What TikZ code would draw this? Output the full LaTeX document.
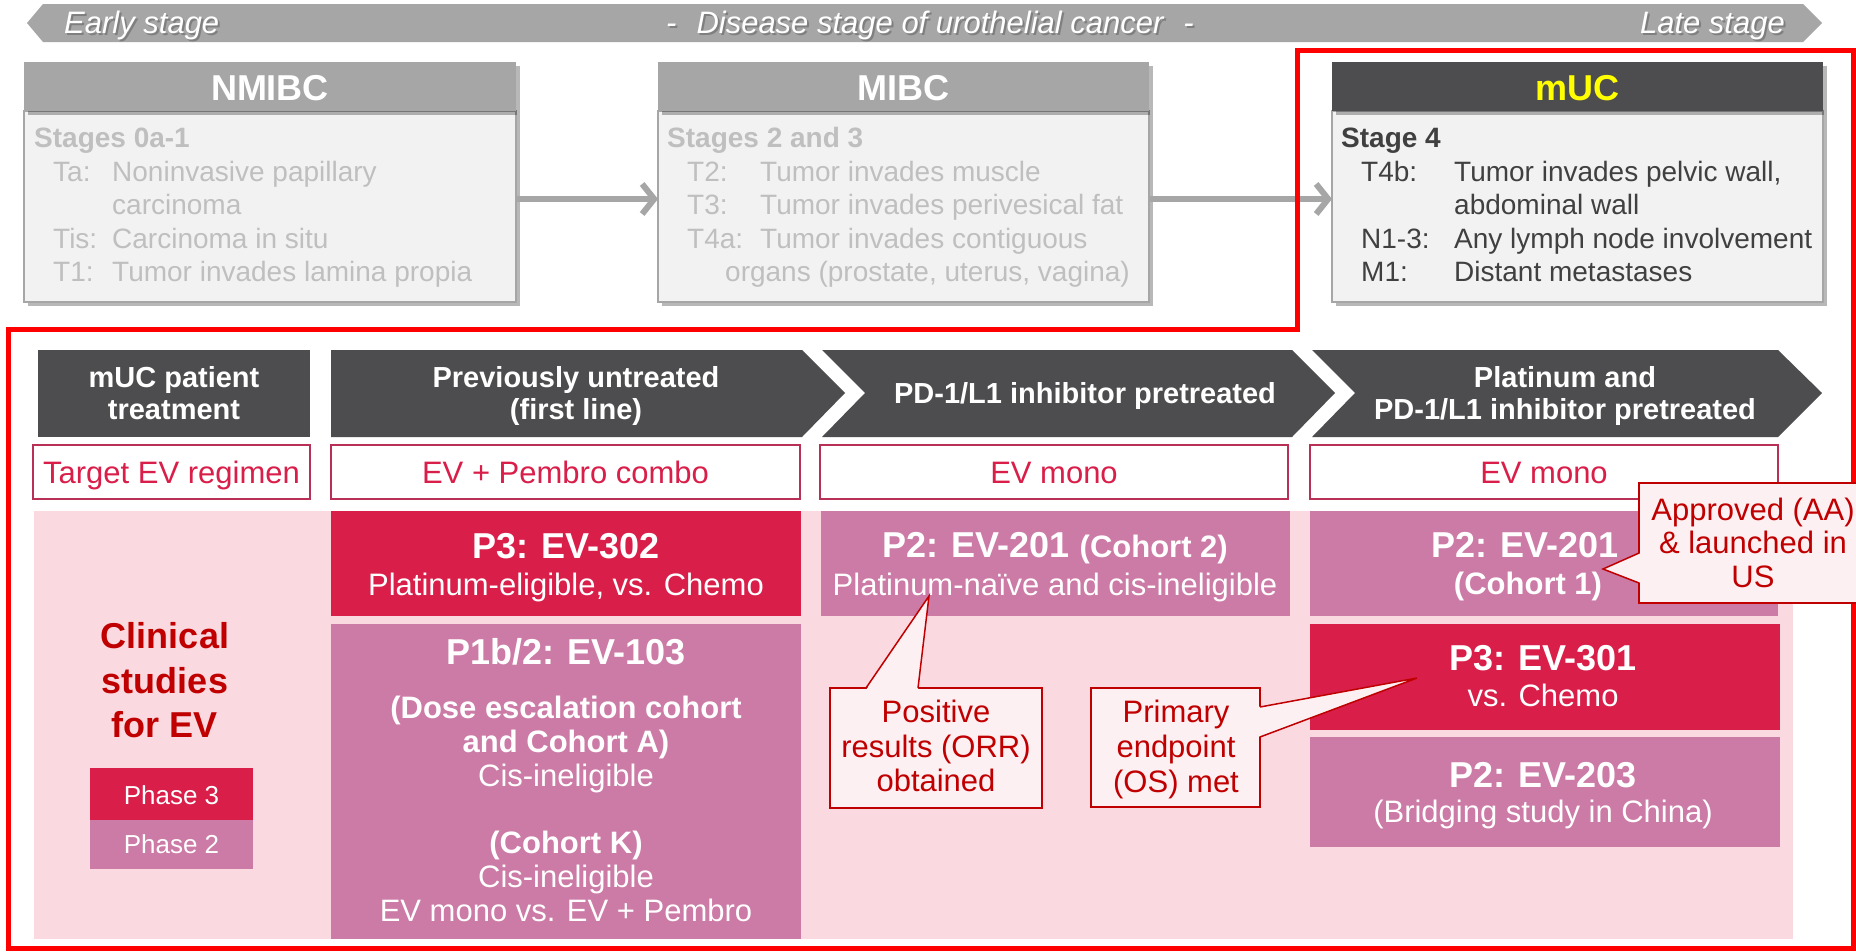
\documentclass[tikz,border=0pt]{standalone}
\usepackage{fontspec}
\setmainfont{Liberation Sans}
\usetikzlibrary{shadows,arrows.meta,calc}
\definecolor{darkhd}{HTML}{4D4D4F}
\definecolor{crim}{HTML}{D91E49}
\definecolor{mauve}{HTML}{CC7AA6}
\definecolor{pinkbg}{HTML}{FADAE0}
\definecolor{callfill}{HTML}{FDF0F3}
\definecolor{dred}{HTML}{C00000}
\definecolor{lgray}{HTML}{A6A6A6}
\definecolor{boxbg}{HTML}{F2F2F2}
\definecolor{ltext}{HTML}{BFBFBF}
\definecolor{dtext}{HTML}{404040}
\definecolor{regborder}{HTML}{B83055}
\definecolor{regtext}{HTML}{D91E49}
\definecolor{muyellow}{HTML}{FFFF00}
\newcommand\fsz[2]{\fontsize{#1}{#2}\selectfont}
\newcommand\rectnode[6]{\node[#2,anchor=north west,inner sep=0pt,outer sep=0pt,minimum width={(#5)-(#3)},minimum height={(#6)-(#4)}] (#1) at (#3,#4) {};}
\newcommand\tline[5][]{\node[anchor=base,inner sep=0pt,#1] (#2) at (#3,#4) {#5};}
\newcommand\lline[5][]{\node[anchor=base west,inner sep=0pt,#1] (#2) at (#3,#4) {#5};}
\begin{document}
\begin{tikzpicture}[x=1pt,y=-1pt,
  myshadow/.style={drop shadow={shadow xshift=4pt,shadow yshift=-4pt,opacity=.28,fill=black}},
  hdgray/.style={fill=lgray,myshadow},
  hddark/.style={fill=darkhd,myshadow},
  bodybox/.style={fill=boxbg,draw=lgray,line width=1.5pt,myshadow},
  regbox/.style={fill=white,draw=regborder,line width=1.5pt},
  crimbox/.style={fill=crim},
  mauvebox/.style={fill=mauve},
  callbox/.style={fill=callfill,draw=dred,line width=1.5pt},
  calledge/.style={draw=dred,line width=1.5pt,line join=miter},
  grayarrow/.style={draw=lgray,line width=6pt,-{Straight Barb[length=12pt,width=30pt]}},
  bantxt/.style={text=white,font=\itshape\fsz{31}{31}},
  banshd/.style={text=black!60,opacity=.6,font=\itshape\fsz{31}{31}},
  hdtxt/.style={font=\bfseries\fsz{36}{36}},
  ltxt/.style={text=ltext,font=\fsz{28}{28}},
  ltxtb/.style={text=ltext,font=\bfseries\fsz{28}{28}},
  dtxt/.style={text=dtext,font=\fsz{28}{28}},
  dtxtb/.style={text=dtext,font=\bfseries\fsz{28}{28}},
  chtxt/.style={text=white,font=\bfseries\fsz{29}{29}},
  regtxt/.style={text=regtext,font=\fsz{31}{31}},
  sttl/.style={text=white,font=\bfseries\fsz{36}{36}},
  ssubb/.style={text=white,font=\bfseries\fsz{31}{31}},
  ssub/.style={text=white,font=\fsz{31}{31}},
  cltxt/.style={text=dred,font=\bfseries\fsz{36}{36}},
  phtxt/.style={text=white,font=\fsz{26}{26}},
  calltxt/.style={text=dred,font=\fsz{31}{31}},
  frame/.style={draw=red,line width=5pt,line join=miter}
]
\useasboundingbox (0,0) rectangle (1856,951);
\fill[white] (0,0) rectangle (1856,951);

% ---- banner ----
\fill[lgray] (27,23) -- (43,4) -- (1803,4) -- (1822,23) -- (1803,42) -- (43,42) -- cycle;
\lline[banshd]{es}{66}{35}{Early stage}
\lline[bantxt]{et}{64}{33}{Early stage}
\tline[banshd]{ds}{932}{35}{-\hspace{20pt}Disease stage of urothelial cancer\hspace{20pt}-}
\tline[bantxt]{dt}{930}{33}{-\hspace{20pt}Disease stage of urothelial cancer\hspace{20pt}-}
\tline[banshd,anchor=base east]{ls}{1787}{35}{Late stage}
\tline[bantxt,anchor=base east]{lt}{1785}{33}{Late stage}

% ---- NMIBC ----
\rectnode{nmibc}{bodybox}{24}{111}{516}{302}
\rectnode{nmibchd}{hdgray}{24}{62}{516}{111}
\tline[hdtxt,text=white]{nmibct}{270}{100}{NMIBC}
\lline[ltxtb]{n0}{34}{147}{Stages 0a-1}
\lline[ltxt]{n1a}{53}{181}{Ta:}
\lline[ltxt]{n1b}{112}{181}{Noninvasive papillary}
\lline[ltxt]{n2b}{112}{214}{carcinoma}
\lline[ltxt]{n3a}{53}{248}{Tis:}
\lline[ltxt]{n3b}{112}{248}{Carcinoma in situ}
\lline[ltxt]{n4a}{53}{281}{T1:}
\lline[ltxt]{n4b}{112}{281}{Tumor invades lamina propia}

% ---- MIBC ----
\rectnode{mibc}{bodybox}{658}{111}{1149}{302}
\rectnode{mibchd}{hdgray}{658}{62}{1149}{111}
\tline[hdtxt,text=white]{mibct}{903}{100}{MIBC}
\lline[ltxtb]{m0}{667}{147}{Stages 2 and 3}
\lline[ltxt]{m1a}{687}{181}{T2:}
\lline[ltxt]{m1b}{760}{181}{Tumor invades muscle}
\lline[ltxt]{m2a}{687}{214}{T3:}
\lline[ltxt]{m2b}{760}{214}{Tumor invades perivesical fat}
\lline[ltxt]{m3a}{687}{248}{T4a:}
\lline[ltxt]{m3b}{760}{248}{Tumor invades contiguous}
\lline[ltxt]{m4b}{725}{281}{organs (prostate, uterus, vagina)}

% ---- mUC ----
\rectnode{muc}{bodybox}{1332}{111}{1823}{302}
\rectnode{muchd}{hddark}{1332}{62}{1823}{111}
\tline[hdtxt,text=muyellow]{muct}{1577}{100}{mUC}
\lline[dtxtb]{u0}{1341}{147}{Stage 4}
\lline[dtxt]{u1a}{1361}{181}{T4b:}
\lline[dtxt]{u1b}{1454}{181}{Tumor invades pelvic wall,}
\lline[dtxt]{u2b}{1454}{214}{abdominal wall}
\lline[dtxt]{u3a}{1361}{248}{N1-3:}
\lline[dtxt]{u3b}{1454}{248}{Any lymph node involvement}
\lline[dtxt]{u4a}{1361}{281}{M1:}
\lline[dtxt]{u4b}{1454}{281}{Distant metastases}

% ---- arrows ----
\draw[grayarrow] (nmibc.east |- 0,199) -- (mibc.west |- 0,199);
\draw[grayarrow] (mibc.east |- 0,199) -- (muc.west |- 0,199);

% ---- red frame ----
\draw[frame] (8.5,329) -- (1297,329) -- (1297,50) -- (1853,50) -- (1853,948) -- (8.5,948) -- cycle;

% ---- chevrons ----
\fill[darkhd] (38,350) rectangle (310,437);
\fill[darkhd] (331,350) -- (802,350) -- (845,393) -- (802,437) -- (331,437) -- cycle;
\fill[darkhd] (822,350) -- (1292,350) -- (1335,393) -- (1292,437) -- (822,437) -- (865,393) -- cycle;
\fill[darkhd] (1312,350) -- (1778,350) -- (1822,393) -- (1778,437) -- (1312,437) -- (1355,393) -- cycle;
\tline[chtxt]{h1a}{174}{387}{mUC patient}
\tline[chtxt]{h1b}{174}{419}{treatment}
\tline[chtxt]{h2a}{576}{387}{Previously untreated}
\tline[chtxt]{h2b}{576}{419}{(first line)}
\tline[chtxt]{h3a}{1085}{403}{PD-1/L1 inhibitor pretreated}
\tline[chtxt]{h4a}{1565}{387}{Platinum and}
\tline[chtxt]{h4b}{1565}{419}{PD-1/L1 inhibitor pretreated}

% ---- regimen row ----
\rectnode{r1}{regbox}{33}{445}{310}{499}
\rectnode{r2}{regbox}{331}{445}{800}{499}
\rectnode{r3}{regbox}{820}{445}{1288}{499}
\rectnode{r4}{regbox}{1310}{445}{1778}{499}
\tline[regtxt]{r1t}{171.5}{483}{Target EV regimen}
\tline[regtxt]{r2t}{565.5}{483}{EV + Pembro combo}
\tline[regtxt]{r3t}{1054}{483}{EV mono}
\tline[regtxt]{r4t}{1544}{483}{EV mono}

% ---- studies ----
\rectnode{bg}{fill=pinkbg}{34}{511}{1793}{939}
\rectnode{s302}{crimbox}{331}{511}{801}{616}
\tline[sttl]{s302a}{566}{558}{P3: EV-302}
\tline[ssub]{s302b}{566}{595}{Platinum-eligible, vs. Chemo}
\rectnode{s103}{mauvebox}{331}{624}{801}{939}
\tline[sttl]{s103a}{566}{664}{P1b/2: EV-103}
\tline[ssubb]{s103b}{566}{718}{(Dose escalation cohort}
\tline[ssubb]{s103c}{566}{752}{and Cohort A)}
\tline[ssub]{s103d}{566}{786}{Cis-ineligible}
\tline[ssubb]{s103e}{566}{853}{(Cohort K)}
\tline[ssub]{s103f}{566}{887}{Cis-ineligible}
\tline[ssub]{s103g}{566}{921}{EV mono vs. EV + Pembro}
\rectnode{s201b}{mauvebox}{821}{511}{1290}{616}
\tline[sttl]{s201ba}{1055}{557}{P2: EV-201 {\fsz{31}{31}(Cohort 2)}}
\tline[ssub]{s201bb}{1055}{595}{Platinum-naïve and cis-ineligible}
\rectnode{s201a}{mauvebox}{1310}{511}{1778}{616}
\tline[sttl]{s201aa}{1525}{557}{P2: EV-201}
\tline[ssubb]{s201ab}{1528}{594}{(Cohort 1)}
\rectnode{s301}{crimbox}{1310}{624}{1780}{730}
\tline[sttl]{s301a}{1543}{670}{P3: EV-301}
\tline[ssub]{s301b}{1543}{706}{vs. Chemo}
\rectnode{s203}{mauvebox}{1310}{737}{1780}{847}
\tline[sttl]{s203a}{1543}{787}{P2: EV-203}
\tline[ssub]{s203b}{1543}{822}{(Bridging study in China)}

% ---- left column ----
\tline[cltxt]{cl1}{165}{648}{Clinical}
\tline[cltxt]{cl2}{165}{693}{studies}
\tline[cltxt]{cl3}{165}{737}{for EV}
\rectnode{ph3}{crimbox}{90}{768}{253}{820}
\rectnode{ph2}{mauvebox}{90}{820}{253}{869}
\tline[phtxt]{ph3t}{171.5}{804}{Phase 3}
\tline[phtxt]{ph2t}{171.5}{853}{Phase 2}

% ---- callouts ----
\rectnode{c1}{callbox}{830}{688}{1042}{808}
\coordinate (c1tip) at (929,596);
\fill[callfill] ($(c1.north west)+(36,2)$) -- (c1tip) -- ($(c1.north west)+(88,2)$) -- cycle;
\draw[calledge] ($(c1.north west)+(36,0)$) -- (c1tip) -- ($(c1.north west)+(88,0)$);
\tline[calltxt]{c1a}{936}{722}{Positive}
\tline[calltxt]{c1b}{936}{757}{results (ORR)}
\tline[calltxt]{c1c}{936}{791}{obtained}

\rectnode{c2}{callbox}{1091}{688}{1260}{807}
\coordinate (c2tip) at (1417,678);
\fill[callfill] ($(c2.north east)+(-2,19)$) -- (c2tip) -- ($(c2.north east)+(-2,49)$) -- cycle;
\draw[calledge] ($(c2.north east)+(0,19)$) -- (c2tip) -- ($(c2.north east)+(0,49)$);
\tline[calltxt]{c2a}{1176}{722}{Primary}
\tline[calltxt]{c2b}{1176}{757}{endpoint}
\tline[calltxt]{c2c}{1176}{792}{(OS) met}

\rectnode{c3}{callbox}{1639}{483}{1866}{603}
\coordinate (c3tip) at (1603,569);
\fill[callfill] ($(c3.north west)+(2,70)$) -- (c3tip) -- ($(c3.north west)+(2,100)$) -- cycle;
\draw[calledge] ($(c3.north west)+(0,70)$) -- (c3tip) -- ($(c3.north west)+(0,100)$);
\tline[calltxt]{c3a}{1753}{520}{Approved (AA)}
\tline[calltxt]{c3b}{1753}{553}{\& launched in}
\tline[calltxt]{c3c}{1753}{587}{US}
\end{tikzpicture}
\end{document}
